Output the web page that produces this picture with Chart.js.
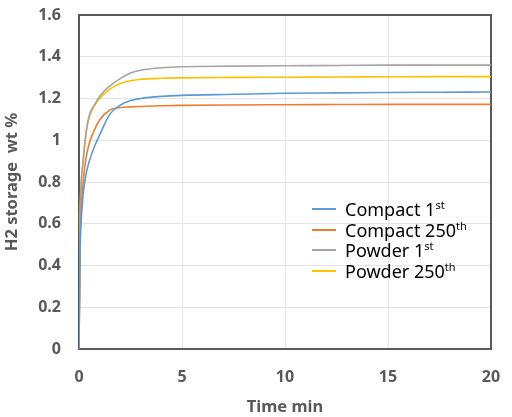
<!DOCTYPE html>
<html>
<head>
<meta charset="utf-8">
<script src="https://cdn.jsdelivr.net/npm/chart.js@4/dist/chart.umd.min.js"></script>
<style>
  html, body { margin: 0; padding: 0; background: #fff; }
  #wrap { position: relative; width: 512px; height: 417px; }
  #legend {
    position: absolute; left: 312px; top: 199px;
    font-family: "Noto Sans", sans-serif; font-size: 18px; color: #000;
    line-height: 20.5px;
  }
  #legend .row { display: flex; align-items: center; white-space: nowrap; }
  #legend .sw { width: 24px; height: 2px; margin-right: 9px; }
  #legend sup { font-size: 11px; vertical-align: 7px; line-height: 0; }
</style>
</head>
<body>
<div id="wrap">
  <canvas id="chart" width="512" height="417"></canvas>
  <div id="legend"></div>
</div>
<script>
// temps (min)
const timeMin = [0, 0.05, 0.1, 0.2, 0.35, 0.5, 0.75, 1, 1.5, 2, 2.5, 3, 4, 5, 7.5, 10, 12.5, 15, 17.5, 20];

// stockage H2 (wt %)
const compact1st   = [0, 0.45, 0.60, 0.74, 0.84, 0.90, 0.97, 1.025, 1.125, 1.168, 1.19, 1.20, 1.21, 1.215, 1.22, 1.225, 1.227, 1.229, 1.23, 1.231];
const compact250th = [0, 0.50, 0.66, 0.80, 0.92, 0.985, 1.05, 1.097, 1.145, 1.157, 1.16, 1.162, 1.165, 1.167, 1.169, 1.17, 1.171, 1.172, 1.172, 1.172];
const powder1st    = [0, 0.60, 0.78, 0.90, 1.04, 1.12, 1.17, 1.21, 1.26, 1.295, 1.322, 1.335, 1.347, 1.352, 1.355, 1.357, 1.358, 1.36, 1.36, 1.36];
const powder250th  = [0, 0.60, 0.78, 0.90, 1.04, 1.11, 1.165, 1.20, 1.245, 1.272, 1.285, 1.292, 1.297, 1.299, 1.301, 1.302, 1.303, 1.304, 1.305, 1.305];

const seriesNames = [["Compact 1", "st"], ["Compact 250", "th"], ["Powder 1", "st"], ["Powder 250", "th"]];
const seriesData = [compact1st, compact250th, powder1st, powder250th];
const seriesColors = ["#5B9BD5", "#ED7D31", "#A5A5A5", "#FFC000"];

const xTicks = [0, 5, 10, 15, 20];
const yMax = 1.6, yStep = 0.2;

const axisColor = "#595959";

// cadre autour de la zone de tracé
const framePlugin = {
  id: 'frame',
  beforeDatasetsDraw(chart) {
    const a = chart.chartArea, ctx = chart.ctx;
    ctx.save();
    ctx.strokeStyle = axisColor;
    ctx.lineWidth = 2;
    ctx.strokeRect(a.left, a.top, a.right - a.left, a.bottom - a.top);
    ctx.restore();
  }
};

const datasets = seriesData.map((vals, i) => ({
  label: seriesNames[i].join(''),
  data: vals.map((v, j) => ({ x: timeMin[j], y: v })),
  borderColor: seriesColors[i],
  backgroundColor: seriesColors[i],
  borderWidth: 1.6,
  pointRadius: 0,
  cubicInterpolationMode: 'monotone',
  fill: false
}));

const tickFont = { family: "'Noto Sans', sans-serif", size: 16, weight: 'bold' };
const titleFont = { family: "'Noto Sans', sans-serif", size: 16.5, weight: 'bold' };

new Chart(document.getElementById('chart').getContext('2d'), {
  type: 'line',
  data: { datasets: datasets },
  options: {
    responsive: false,
    animation: false,
    layout: { padding: { top: 15, right: 21, left: 0, bottom: 0 } },
    plugins: { legend: { display: false }, tooltip: { enabled: false } },
    scales: {
      x: {
        type: 'linear',
        min: 0, max: 20,
        afterBuildTicks: axis => { axis.ticks = xTicks.map(v => ({ value: v })); },
        afterFit: axis => { axis.height = 68; axis.paddingLeft = 0; axis.paddingRight = 0; },
        grid: { color: '#e4e4e4', drawTicks: false },
        border: { display: false },
        ticks: { color: axisColor, font: tickFont, padding: 19, maxRotation: 0 },
        title: { display: true, text: 'Time min', color: axisColor, font: titleFont, padding: { top: 2, bottom: 0 } }
      },
      y: {
        min: 0, max: yMax,
        afterFit: axis => { axis.width = 79; axis.paddingTop = 0; axis.paddingBottom = 0; },
        grid: { color: '#e4e4e4', drawTicks: false },
        border: { display: false },
        ticks: {
          stepSize: yStep, color: axisColor, font: tickFont, padding: 18,
          callback: v => String(+v.toFixed(1))
        },
        title: { display: true, text: 'H2 storage  wt %', color: axisColor, font: titleFont, padding: { top: 2, bottom: 0 } }
      }
    }
  },
  plugins: [framePlugin]
});

// légende avec exposants
const legend = document.getElementById('legend');
seriesNames.forEach((n, i) => {
  const row = document.createElement('div');
  row.className = 'row';
  row.innerHTML = '<span class="sw" style="background:' + seriesColors[i] + '"></span><span>' + n[0] + '<sup>' + n[1] + '</sup></span>';
  legend.appendChild(row);
});
</script>
</body>
</html>
